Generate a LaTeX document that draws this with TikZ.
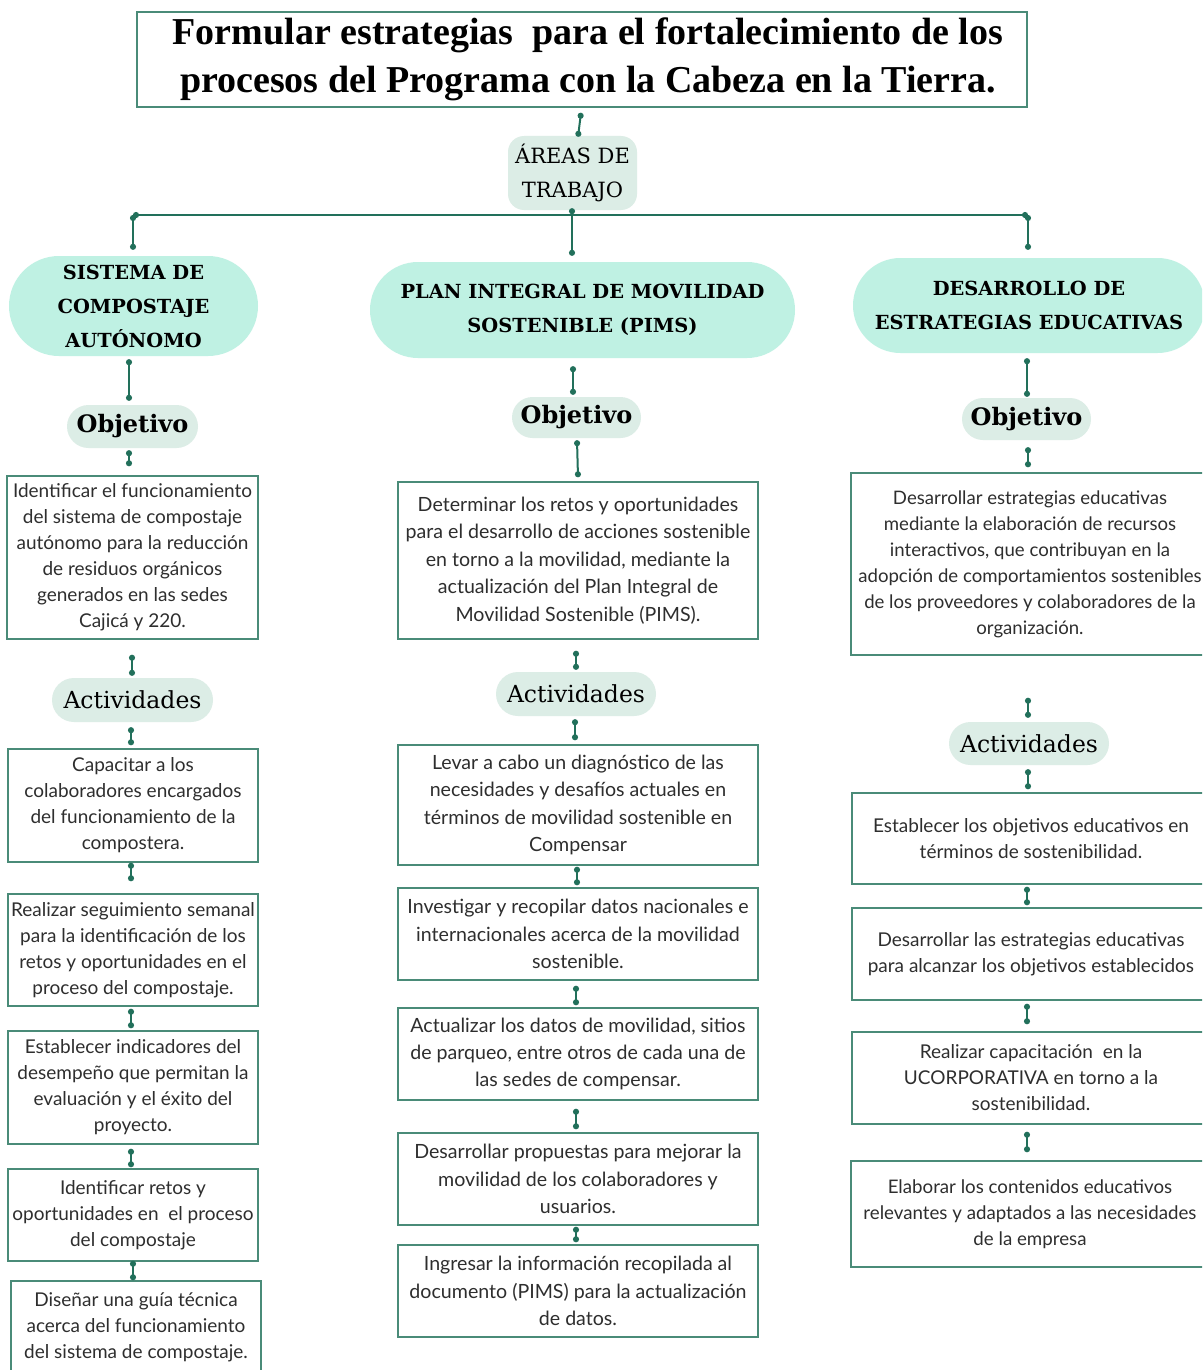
\documentclass[tikz,border=0pt]{standalone}
\usepackage{fontspec}
\usetikzlibrary{shapes.misc,arrows.meta,calc}
\newfontfamily\titlefont{Liberation Serif}
\newfontfamily\headfont{DejaVu Serif}
\newfontfamily\bodyfont{Lato}
\definecolor{boxcol}{HTML}{4A8B78}
\definecolor{conncol}{HTML}{22705B}
\definecolor{mint}{HTML}{BFF1E3}
\definecolor{pale}{HTML}{DCEDE6}
\definecolor{txtcol}{HTML}{2E2E2E}
\tikzset{
  box/.style={draw=boxcol, line width=1.5pt, fill=white, text=txtcol, align=center, inner sep=0pt,
    font=\bodyfont\fontsize{19}{26}\selectfont},
  boxm/.style={box, font=\bodyfont\fontsize{19.6}{27.4}\selectfont},
  pill/.style={rounded rectangle, fill=mint, text=black, align=center, inner sep=0pt,
    font=\headfont\bfseries\fontsize{19.4}{34}\selectfont},
  tagobj/.style={rounded rectangle, fill=pale, text=black, inner sep=0pt,
    font=\headfont\bfseries\fontsize{24}{28}\selectfont},
  tagact/.style={rounded rectangle, fill=pale, text=black, inner sep=0pt,
    font=\headfont\fontsize{23.5}{28}\selectfont},
  conn/.style={draw=conncol, line width=2pt, {Circle[length=6pt]}-{Circle[length=6pt]}},
}
\newcommand\conn[6]{\draw[conn] ($(#1.south)+(#3,#4)$) -- ($(#2.north)+(#5,#6)$);}
\begin{document}
\begin{tikzpicture}[x=1pt,y=-1pt]
\clip (0,0) rectangle (1202,1370);
\fill[white] (0,0) rectangle (1202,1370);
% title
\node[draw=boxcol, line width=1.5pt, minimum width=890pt, minimum height=95pt, inner sep=0pt, align=center,
  font=\titlefont\bfseries\fontsize{38}{48}\selectfont] (title) at (582,59.5)
  {\hspace*{12pt}Formular estrategias\ \ para el fortalecimiento de los\\\hspace*{12pt}procesos del Programa con la Cabeza en la Tierra.};
\node[fill=pale, rounded corners=16pt, minimum width=129pt, minimum height=74pt, inner sep=0pt, align=center,
  font=\headfont\fontsize{21}{34}\selectfont] (areas) at (572.5,173) {ÁREAS DE\\TRABAJO};
% pills
\node[pill, minimum width=249pt, minimum height=100pt] (p1) at (133.5,306) {SISTEMA DE\\COMPOSTAJE\\AUTÓNOMO};
\node[pill, minimum width=425pt, minimum height=96pt] (p2) at (582.5,310) {PLAN INTEGRAL DE MOVILIDAD\\SOSTENIBLE (PIMS)};
\node[pill, minimum width=352pt, minimum height=95pt] (p3) at (1029,305.5) {DESARROLLO DE\\ESTRATEGIAS EDUCATIVAS};
% objetivo tags
\node[tagobj, minimum width=131pt, minimum height=43pt] (o1) at (132.5,426.5) {Objetivo};
\node[tagobj, minimum width=129pt, minimum height=41pt] (o2) at (576.5,417.5) {Objetivo};
\node[tagobj, minimum width=129pt, minimum height=42pt] (o3) at (1026.5,419) {Objetivo};
% objective boxes
\node[box, minimum width=251pt, minimum height=163pt] (b1) at (132.5,557.5)
  {Identificar el funcionamiento\\del sistema de compostaje\\autónomo para la reducción\\de residuos orgánicos\\generados en las sedes\\Cajicá y 220.};
\node[boxm, minimum width=360pt, minimum height=157pt] (b2) at (578,560.5)
  {Determinar los retos y oportunidades\\para el desarrollo de acciones sostenible\\en torno a la movilidad, mediante la\\actualización del Plan Integral de\\Movilidad Sostenible (PIMS).};
\node[box, minimum width=358pt, minimum height=182pt, font=\bodyfont\fontsize{18.6}{26}\selectfont] (b3) at (1030,564)
  {Desarrollar estrategias educativas\\mediante la elaboración de recursos\\interactivos, que contribuyan en la\\adopción de comportamientos sostenibles\\de los proveedores y colaboradores de la\\organización.};
% actividades tags
\node[tagact, minimum width=161pt, minimum height=44pt] (a1) at (132.5,700) {Actividades};
\node[tagact, minimum width=160pt, minimum height=44pt] (a2) at (576,694) {Actividades};
\node[tagact, minimum width=160pt, minimum height=43pt] (a3) at (1029,743.5) {Actividades};
% left activities
\node[box, minimum width=250pt, minimum height=113pt] (l1) at (133,805.5)
  {Capacitar a los\\colaboradores encargados\\del funcionamiento de la\\compostera.};
\node[box, minimum width=250pt, minimum height=112pt] (l2) at (133,950)
  {Realizar seguimiento semanal\\para la identificación de los\\retos y oportunidades en el\\proceso del compostaje.};
\node[box, minimum width=250pt, minimum height=113pt] (l3) at (133,1087.5)
  {Establecer indicadores del\\desempeño que permitan la\\evaluación y el éxito del\\proyecto.};
\node[box, minimum width=250pt, minimum height=92pt] (l4) at (133,1215)
  {Identificar retos y\\oportunidades en\ \ el proceso\\del compostaje};
\node[box, minimum width=250pt, minimum height=92pt] (l5) at (136,1327)
  {Diseñar una guía técnica\\acerca del funcionamiento\\del sistema de compostaje.};
% middle activities
\node[boxm, minimum width=360pt, minimum height=120pt] (m1) at (578,805)
  {Levar a cabo un diagnóstico de las\\necesidades y desafíos actuales en\\términos de movilidad sostenible en\\Compensar};
\node[boxm, minimum width=360pt, minimum height=92pt] (m2) at (578,934)
  {Investigar y recopilar datos nacionales e\\internacionales acerca de la movilidad\\sostenible.};
\node[boxm, minimum width=360pt, minimum height=92pt] (m3) at (578,1054)
  {Actualizar los datos de movilidad, sitios\\de parqueo, entre otros de cada una de\\las sedes de compensar.};
\node[boxm, minimum width=360pt, minimum height=92pt] (m4) at (578,1179)
  {Desarrollar propuestas para mejorar la\\movilidad de los colaboradores y\\usuarios.};
\node[boxm, minimum width=360pt, minimum height=92pt] (m5) at (578,1291)
  {Ingresar la información recopilada al\\documento (PIMS) para la actualización\\de datos.};
% right activities
\node[box, minimum width=358pt, minimum height=91pt] (r1) at (1031,838.5)
  {Establecer los objetivos educativos en\\términos de sostenibilidad.};
\node[box, minimum width=358pt, minimum height=92pt] (r2) at (1031,954)
  {Desarrollar las estrategias educativas\\para alcanzar los objetivos establecidos};
\node[box, minimum width=358pt, minimum height=92pt] (r3) at (1031,1078)
  {Realizar capacitación\ \ en la\\UCORPORATIVA en torno a la\\sostenibilidad.};
\node[box, minimum width=358pt, minimum height=106pt, font=\bodyfont\fontsize{18.7}{26}\selectfont] (r4) at (1030,1214)
  {Elaborar los contenidos educativos\\relevantes y adaptados a las necesidades\\de la empresa};
% connectors
\coordinate (barL) at (133,215);
\coordinate (barR) at (1028,215);
\conn{title}{areas}{-1}{5}{5.5}{1}
\conn{areas}{p2}{-0.5}{-2}{-10.5}{-6}
\draw[conn] (barL) -- (barR);
\draw[conn] (barL) -- ($(p1.north)+(-0.5,-6)$);
\draw[conn] (barR) -- ($(p3.north)+(-1,-8)$);
\conn{p1}{o1}{-4.5}{3}{-3.5}{-4}
\conn{p2}{o2}{-9.5}{8}{-3.5}{-2}
\conn{p3}{o3}{-2}{5}{0.5}{-1}
\conn{o1}{b1}{-3.5}{2}{-3.5}{-9}
\conn{o2}{b2}{0.5}{2}{0}{-4}
\conn{o3}{b3}{1.5}{7}{-2}{-5}
\conn{b1}{a1}{-0.5}{15}{-0.5}{-2}
\conn{b2}{a2}{-2}{11}{0}{-2}
\conn{b3}{a3}{-2}{42}{-1}{-4}
\conn{a1}{l1}{-1.5}{5}{-2}{-3}
\conn{a2}{m1}{-1}{3}{-3}{-4}
\conn{a3}{r1}{-1}{4}{-3}{-3}
\conn{l1}{l2}{-2}{0}{-2}{-12}
\conn{l2}{l3}{-2}{2}{-2}{-2}
\conn{l3}{l4}{-2}{4}{-2}{-1}
\conn{l4}{l5}{0}{-1}{-3}{0}
\conn{m1}{m2}{-1}{1}{-1}{-2}
\conn{m2}{m3}{-2}{5}{-2}{-2}
\conn{m3}{m4}{-2}{8}{-2}{-3}
\conn{m4}{m5}{-2}{1}{-2}{-2}
\conn{r1}{r2}{-4}{2}{-4}{-2}
\conn{r2}{r3}{-4}{3}{-4}{-7}
\conn{r3}{r4}{-4}{7}{-3}{-8}
\end{tikzpicture}
\end{document}
